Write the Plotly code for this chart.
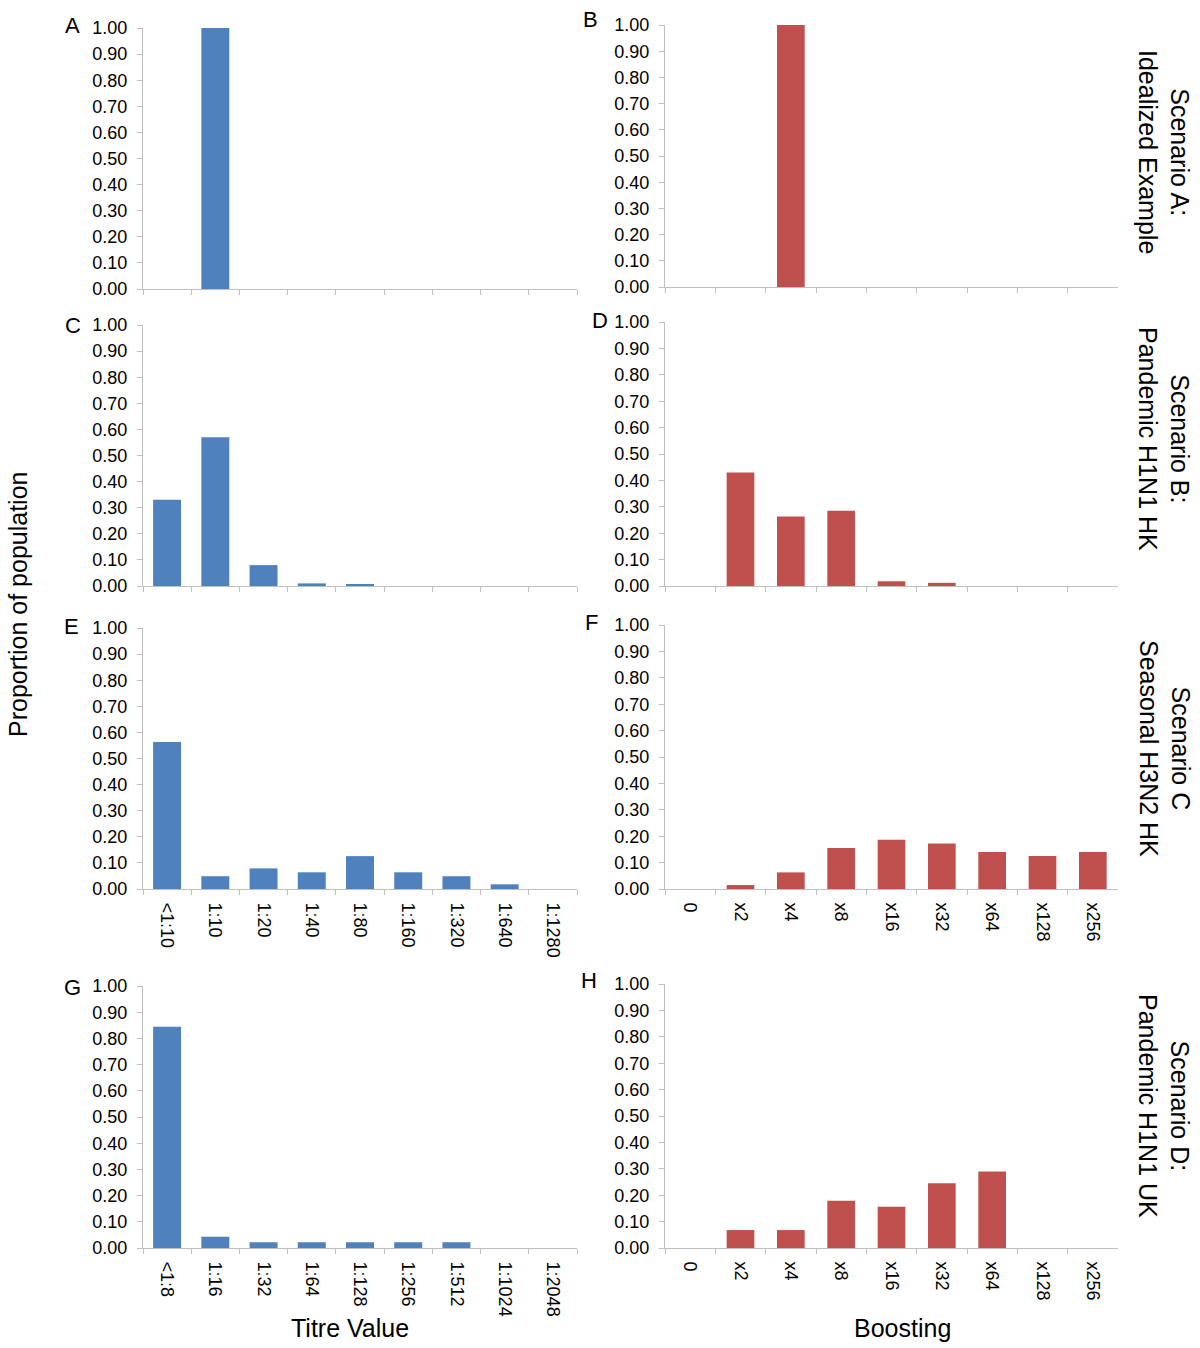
import plotly.graph_objects as go

# ---------------- data ----------------
titre_cats = ["&lt;1:10", "1:10", "1:20", "1:40", "1:80", "1:160", "1:320", "1:640", "1:1280"]
titre_cats_uk = ["&lt;1:8", "1:16", "1:32", "1:64", "1:128", "1:256", "1:512", "1:1024", "1:2048"]
boost_cats = ["0", "x2", "x4", "x8", "x16", "x32", "x64", "x128", "x256"]

a_vals = [0, 1.00, 0, 0, 0, 0, 0, 0, 0]
b_vals = [0, 0, 1.00, 0, 0, 0, 0, 0, 0]
c_vals = [0.33, 0.57, 0.08, 0.01, 0.005, 0, 0, 0, 0]
d_vals = [0, 0.43, 0.263, 0.285, 0.018, 0.012, 0, 0, 0]
e_vals = [0.563, 0.049, 0.079, 0.064, 0.126, 0.064, 0.049, 0.018, 0]
f_vals = [0, 0.015, 0.063, 0.155, 0.187, 0.172, 0.14, 0.125, 0.14]
g_vals = [0.844, 0.043, 0.022, 0.022, 0.022, 0.022, 0.022, 0, 0]
h_vals = [0, 0.068, 0.068, 0.179, 0.156, 0.245, 0.29, 0, 0]

panel_letters = ["A", "B", "C", "D", "E", "F", "G", "H"]
scenario_labels = [
    "Scenario A:<br>Idealized Example",
    "Scenario B:<br>Pandemic H1N1 HK",
    "Scenario C<br>Seasonal H3N2 HK",
    "Scenario D:<br>Pandemic H1N1 UK",
]

BLUE = "#4f81bd"
RED = "#c0504d"
AXC = "#bfbfbf"
FONT = "Liberation Sans, Arial, sans-serif"

W, H = 1200, 1348

# panels: (cats, vals, color, x0, x1, ytop, ybot, showlabels, barwidth)
panels = [
    (titre_cats, a_vals, BLUE, 143, 577, 28, 289, False, 0.58),
    (boost_cats, b_vals, RED, 665, 1118, 25, 287, False, 0.55),
    (titre_cats, c_vals, BLUE, 143, 577, 325, 586, False, 0.58),
    (boost_cats, d_vals, RED, 665, 1118, 322, 586, False, 0.55),
    (titre_cats, e_vals, BLUE, 143, 577, 628, 889, True, 0.58),
    (boost_cats, f_vals, RED, 665, 1118, 625, 889, True, 0.55),
    (titre_cats_uk, g_vals, BLUE, 143, 577, 986, 1248, True, 0.58),
    (boost_cats, h_vals, RED, 665, 1118, 984, 1248, True, 0.55),
]

fig = go.Figure()
layout = dict(
    width=W, height=H,
    autosize=False,
    margin=dict(l=0, r=0, t=0, b=0, pad=0),
    paper_bgcolor="white", plot_bgcolor="white",
    showlegend=False,
    font=dict(family=FONT, size=18, color="black"),
)

annotations = []
for i, (cats, vals, col, x0, x1, yt, yb, showlab, bw) in enumerate(panels, start=1):
    xa = "x" if i == 1 else f"x{i}"
    ya = "y" if i == 1 else f"y{i}"
    fig.add_trace(go.Bar(
        x=cats, y=vals, xaxis=xa, yaxis=ya,
        marker=dict(color=col, line=dict(width=0)),
        width=bw,
    ))
    layout[f"xaxis{i}"] = dict(
        domain=[x0 / W, x1 / W],
        anchor=ya,
        type="category",
        range=[-0.5, 8.5],
        automargin=False,
        showline=True, linecolor=AXC, linewidth=1,
        ticks="outside", tickson="boundaries", ticklen=5, tickcolor=AXC,
        showgrid=False, zeroline=False,
        showticklabels=showlab,
        tickangle=90,
        tickfont=dict(size=18, color="black"),
        ticklabelstandoff=9,
        fixedrange=True,
    )
    layout[f"yaxis{i}"] = dict(
        domain=[1 - yb / H, 1 - yt / H],
        anchor=xa,
        range=[0, 1],
        automargin=False,
        tickvals=[k / 10 for k in range(11)],
        tickformat=".2f",
        showline=True, linecolor=AXC, linewidth=1,
        ticks="outside", ticklen=5, tickcolor=AXC,
        showgrid=False, zeroline=False,
        tickfont=dict(size=18, color="black"),
        ticklabelstandoff=6,
        fixedrange=True,
    )

# panel letters
letter_pos = [(72, 25), (590, 20), (73, 325), (600, 320), (71, 627), (591, 622), (72, 987), (589, 981)]
for lab, (px, py) in zip(panel_letters, letter_pos):
    annotations.append(dict(
        text=lab, x=px / W, y=1 - py / H, xref="paper", yref="paper",
        xanchor="center", yanchor="middle", showarrow=False,
        font=dict(size=22, color="black", family=FONT),
    ))

# scenario labels (right side, rotated)
scen_y = [152, 439, 748, 1106]
for lab, py in zip(scenario_labels, scen_y):
    annotations.append(dict(
        text=lab, x=1164 / W, y=1 - py / H, xref="paper", yref="paper",
        xanchor="center", yanchor="middle", showarrow=False, textangle=90,
        font=dict(size=25, color="black", family=FONT),
    ))

# axis titles
annotations.append(dict(
    text="Proportion of population", x=18 / W, y=1 - 605 / H, xref="paper", yref="paper",
    xanchor="center", yanchor="middle", showarrow=False, textangle=-90,
    font=dict(size=25, color="black", family=FONT),
))
annotations.append(dict(
    text="Titre Value", x=350 / W, y=1 - 1328 / H, xref="paper", yref="paper",
    xanchor="center", yanchor="middle", showarrow=False,
    font=dict(size=25, color="black", family=FONT),
))
annotations.append(dict(
    text="Boosting", x=903 / W, y=1 - 1328 / H, xref="paper", yref="paper",
    xanchor="center", yanchor="middle", showarrow=False,
    font=dict(size=25, color="black", family=FONT),
))

layout["annotations"] = annotations
fig.update_layout(**layout)
fig.write_html(
    "out.html",
    config={"displayModeBar": False},
    post_script="document.body.style.margin='0';document.body.style.overflow='hidden';",
)
